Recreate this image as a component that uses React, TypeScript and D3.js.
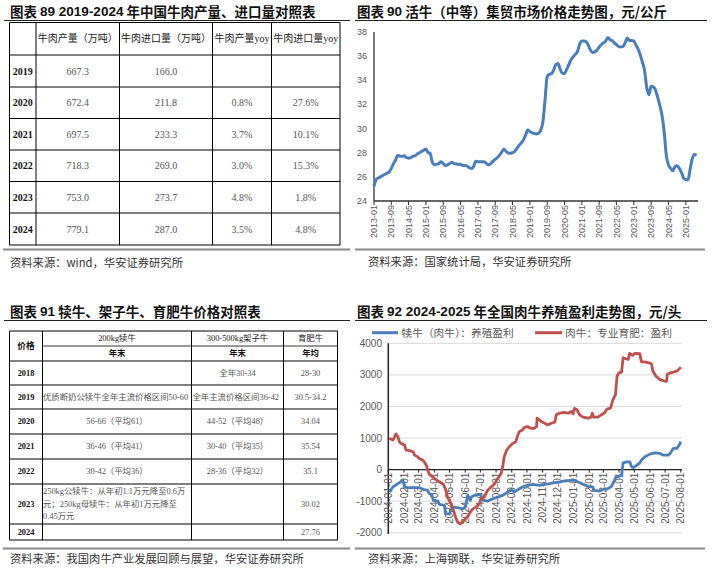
import React from 'react';
import * as d3 from 'd3';

// ---------- Table 89 ----------
const t89Header = ['', '牛肉产量（万吨）', '牛肉进口量（万吨）', '牛肉产量yoy', '牛肉进口量yoy'];
const t89Years = ['2019', '2020', '2021', '2022', '2023', '2024'];
const t89Output = ['667.3', '672.4', '697.5', '718.3', '753.0', '779.1'];
const t89Import = ['166.0', '211.8', '233.3', '269.0', '273.7', '287.0'];
const t89OutputYoy = ['', '0.8%', '3.7%', '3.0%', '4.8%', '3.5%'];
const t89ImportYoy = ['', '27.6%', '10.1%', '15.3%', '1.8%', '4.8%'];

// ---------- Table 91 ----------
const t91Head1 = ['价格', '200kg犊牛', '300-500kg架子牛', '育肥牛'];
const t91Head2 = ['年末', '年末', '年均'];
const t91Years = ['2018', '2019', '2020', '2021', '2022', '2023', '2024'];
const t91Calf = [
  [''],
  ['优质断奶公犊牛全年主流价格区间50-60'],
  ['56-66（平均61）'],
  ['36-46（平均41）'],
  ['30-42（平均36）'],
  ['250kg公犊牛：从年初1.1万元降至0.6万', '元；250kg母犊牛：从年初1万元降至', '0.45万元'],
  [''],
];
const t91Stocker = ['全年30-34', '全年主流价格区间36-42', '44-52（平均48）', '30-40（平均35）', '28-36（平均32）', '', ''];
const t91Fat = ['28-30', '30.5-34.2', '34.04', '35.54', '35.1', '30.02', '27.76'];

// ---------- Chart 90 (monthly, from 2013-01) ----------
const price90Start = '2013-01';
const price90 = [
  25.2, 25.8, 25.9, 26.0, 26.1, 26.2, 26.3, 26.4, 26.7, 27.1, 27.4, 27.8,
  27.7, 27.7, 27.75, 27.6, 27.55, 27.6, 27.7, 27.75, 27.9, 28.0, 28.1, 28.2,
  28.3, 28.0, 27.95, 27.2, 27.0, 27.05, 27.1, 27.25, 27.1, 26.95, 27.0, 27.1,
  27.2, 27.1, 27.07, 27.05, 27.05, 26.95, 26.95, 26.9, 26.75, 26.7, 26.85, 27.3,
  27.25, 27.25, 27.25, 27.25, 27.1, 26.98, 27.1, 27.3, 27.45, 27.6, 27.8, 28.05,
  28.3, 28.1, 27.98, 27.95, 28.0, 28.1, 28.35, 28.6, 28.8, 29.05, 29.45, 29.88,
  29.75, 29.65, 29.6, 29.55, 29.6, 29.85, 30.5, 32.3, 34.3, 34.5, 34.55, 34.85,
  35.3, 35.4, 34.9, 34.6, 34.56, 34.9, 35.3, 35.7, 35.95, 36.15, 36.4, 37.0,
  37.25, 37.25, 37.2, 36.9, 36.5, 36.3, 36.35, 36.5, 36.75, 36.95, 37.1, 37.25,
  37.55, 37.35, 37.3, 37.1, 36.95, 36.8, 36.75, 36.8, 37.1, 37.5, 37.3, 37.3,
  37.25, 36.9, 36.6, 36.1, 35.5, 34.8, 33.4, 32.8, 33.5, 33.45, 33.2, 32.6,
  31.9, 31.1, 29.8, 27.8, 27.0, 26.7, 26.5, 26.85, 26.93, 26.7, 26.35, 25.9,
  25.78, 25.75, 26.6, 27.5, 27.85, 27.8,
];
const x90Ticks = ['2013-01', '2013-09', '2014-05', '2015-01', '2015-09', '2016-05', '2017-01', '2017-09', '2018-05', '2019-01', '2019-09', '2020-05', '2021-01', '2021-09', '2022-05', '2023-01', '2023-09', '2024-05', '2025-01'];
const y90Ticks = [24, 26, 28, 30, 32, 34, 36, 38];

// ---------- Chart 92 ----------
const redDates = [
  '2024-01-03', '2024-01-10', '2024-01-13', '2024-01-16', '2024-01-20', '2024-01-23', '2024-01-26', '2024-02-02', '2024-02-05', '2024-02-12',
  '2024-02-19', '2024-02-22', '2024-02-28', '2024-03-02', '2024-03-09', '2024-03-12', '2024-03-16', '2024-03-19', '2024-03-22', '2024-03-29',
  '2024-04-04', '2024-04-11', '2024-04-18', '2024-04-21', '2024-04-24', '2024-04-27', '2024-05-04', '2024-05-09', '2024-05-13', '2024-05-17',
  '2024-05-22', '2024-05-27', '2024-06-01', '2024-06-06', '2024-06-11', '2024-06-16', '2024-06-22', '2024-06-29', '2024-07-02', '2024-07-09',
  '2024-07-15', '2024-07-22', '2024-07-29', '2024-08-04', '2024-08-11', '2024-08-14', '2024-08-17', '2024-08-22', '2024-08-27', '2024-09-03',
  '2024-09-09', '2024-09-13', '2024-09-16', '2024-09-22', '2024-09-26', '2024-10-02', '2024-10-09', '2024-10-15', '2024-10-20', '2024-10-21',
  '2024-10-23', '2024-10-26', '2024-10-29', '2024-11-05', '2024-11-11', '2024-11-18', '2024-11-25', '2024-11-28', '2024-12-04', '2024-12-14',
  '2024-12-21', '2024-12-28', '2024-12-31', '2025-01-03', '2025-01-08', '2025-01-13', '2025-01-20', '2025-01-30', '2025-02-05', '2025-02-07',
  '2025-02-10', '2025-02-18', '2025-02-25', '2025-03-04', '2025-03-08', '2025-03-15', '2025-03-20', '2025-03-25', '2025-03-28', '2025-04-01',
  '2025-04-06', '2025-04-09', '2025-04-14', '2025-04-19', '2025-04-22', '2025-04-28', '2025-05-02', '2025-05-12', '2025-05-15', '2025-05-25',
  '2025-06-04', '2025-06-07', '2025-06-13', '2025-06-21', '2025-07-01', '2025-07-04', '2025-07-05', '2025-07-11', '2025-07-17', '2025-07-24',
  '2025-07-29', '2025-08-01',
];
const redValues = [
  990, 936, 1020, 1130, 1040, 880, 830, 780, 617, 600,
  560, 457, 404, 350, 300, 245, 138, -20, -150, -234,
  -320, -394, -447, -553, -660, -870, -1085, -1300, -1510, -1670,
  -1723, -1670, -1564, -1490, -1350, -1245, -1190, -1085, -925, -870,
  -660, -553, -447, -287, -128, 85, 404, 617, 723, 830,
  883, 1096, 1202, 1255, 1340, 1362, 1308, 1308, 1362, 1628,
  1596, 1575, 1521, 1468, 1415, 1468, 1500, 1734, 1787, 1808,
  1787, 1840, 1766, 1936, 1894, 1734, 1660, 1628, 1660, 1787,
  1660, 1660, 1734, 1808, 1915, 1947, 2213, 2372, 2957, 3064,
  3085, 3543, 3511, 3490, 3681, 3617, 3681, 3670, 3415, 3404,
  3351, 3117, 2957, 2851, 2798, 2798, 3011, 3064, 3085, 3117,
  3191, 3245,
];
const blueDates = [
  '2024-01-03', '2024-01-10', '2024-01-20', '2024-01-30', '2024-02-02', '2024-02-09', '2024-02-19', '2024-03-03', '2024-03-12', '2024-03-19',
  '2024-03-22', '2024-03-27', '2024-03-30', '2024-04-08', '2024-04-11', '2024-04-21', '2024-04-23', '2024-05-01', '2024-05-04', '2024-05-11',
  '2024-05-19', '2024-05-27', '2024-06-01', '2024-06-06', '2024-06-11', '2024-06-13', '2024-06-19', '2024-06-26', '2024-07-02', '2024-07-07',
  '2024-07-15', '2024-07-25', '2024-08-04', '2024-08-14', '2024-08-24', '2024-08-31', '2024-09-06', '2024-09-13', '2024-09-22', '2024-10-02',
  '2024-10-12', '2024-10-26', '2024-11-05', '2024-11-14', '2024-11-25', '2024-12-04', '2024-12-14', '2024-12-24', '2025-01-03', '2025-01-10',
  '2025-01-20', '2025-01-30', '2025-02-08', '2025-02-11', '2025-02-21', '2025-02-28', '2025-03-10', '2025-03-17', '2025-03-23', '2025-03-26',
  '2025-04-01', '2025-04-06', '2025-04-09', '2025-04-16', '2025-04-22', '2025-04-26', '2025-04-29', '2025-05-06', '2025-05-12', '2025-05-15',
  '2025-05-22', '2025-06-01', '2025-06-11', '2025-06-21', '2025-06-27', '2025-07-07', '2025-07-11', '2025-07-17', '2025-07-24', '2025-07-29',
  '2025-08-01',
];
const blueValues = [
  -713, -553, -447, -340, -553, -574, -574, -574, -638, -660,
  -766, -787, -979, -1000, -1106, -1138, -1404, -1404, -1245, -1190,
  -1213, -1245, -1190, -820, -979, -872, -820, -787, -820, -979,
  -1000, -925, -872, -820, -713, -638, -713, -638, -553, -500,
  -468, -500, -468, -447, -415, -394, -362, -340, -340, -394,
  -468, -532, -553, -660, -681, -638, -606, -532, -340, -234,
  -213, -181, 213, 245, 245, 85, 64, 138, 213, 298,
  404, 489, 532, 510, 457, 457, 510, 670, 670, 777,
  883,
];
const x92Ticks = ['2024-01-01', '2024-02-01', '2024-03-01', '2024-04-01', '2024-05-01', '2024-06-01', '2024-07-01', '2024-08-01', '2024-09-01', '2024-10-01', '2024-11-01', '2024-12-01', '2025-01-01', '2025-02-01', '2025-03-01', '2025-04-01', '2025-05-01', '2025-06-01', '2025-07-01', '2025-08-01'];
const y92Ticks = [-2000, -1000, 0, 1000, 2000, 3000, 4000];
const legend92 = ['犊牛（肉牛）：养殖盈利', '肉牛：专业育肥：盈利'];

const CJK = "'Noto Sans CJK SC', sans-serif";
const TAB = "'Liberation Serif', 'Noto Sans CJK SC', serif";
const SANS = "'Liberation Sans', Arial, 'Noto Sans CJK SC', sans-serif";
const BLUE = '#4a7ebb';
const RED = '#c0504d';

function Table89() {
  const cols = [9.5, 36, 119.5, 212.5, 271.5, 340];
  const rows = [22.5, 55, 87, 118.5, 150, 181.5, 213, 245];
  const cx = (i: number) => (cols[i] + cols[i + 1]) / 2;
  const cy = (i: number) => (rows[i] + rows[i + 1]) / 2;
  const body = [t89Output, t89Import, t89OutputYoy, t89ImportYoy];
  return (
    <g>
      {rows.map((y, i) => (
        <line key={'h' + i} x1={cols[0]} x2={cols[5]} y1={y} y2={y} stroke="#000" strokeWidth={1} />
      ))}
      {cols.map((x, i) => (
        <line key={'v' + i} x1={x} x2={x} y1={rows[0]} y2={rows[rows.length - 1]} stroke="#000" strokeWidth={1} />
      ))}
      {t89Header.map((h, i) => (
        <text key={'th' + i} x={cx(i)} y={cy(0)} textAnchor="middle" dominantBaseline="central" fontSize={10} fontFamily={TAB} fill="#222">{h}</text>
      ))}
      {t89Years.map((yr, r) => (
        <g key={'r' + r}>
          <text x={cx(0)} y={cy(r + 1)} textAnchor="middle" dominantBaseline="central" fontSize={10} fontWeight="bold" fontFamily={TAB} fill="#111">{yr}</text>
          {body.map((col, c) => (
            <text key={c} x={cx(c + 1)} y={cy(r + 1)} textAnchor="middle" dominantBaseline="central" fontSize={10} fontFamily={TAB} fill="#555">{col[r]}</text>
          ))}
        </g>
      ))}
    </g>
  );
}

function Table91() {
  const cols = [9.5, 42.5, 191.5, 283.5, 337.5];
  const rows = [331, 346, 361, 385, 409, 434, 459, 484, 524, 540];
  const cx = (i: number) => (cols[i] + cols[i + 1]) / 2;
  const fs = 8.4;
  return (
    <g>
      <line x1={cols[0]} x2={cols[4]} y1={rows[0]} y2={rows[0]} stroke="#000" />
      <line x1={cols[1]} x2={cols[4]} y1={rows[1]} y2={rows[1]} stroke="#000" strokeWidth={0.8} />
      {rows.slice(2).map((y, i) => (
        <line key={'h' + i} x1={cols[0]} x2={cols[4]} y1={y} y2={y} stroke="#000" />
      ))}
      {cols.map((x, i) => (
        <line key={'v' + i} x1={x} x2={x} y1={rows[0]} y2={rows[rows.length - 1]} stroke="#000" />
      ))}
      <text x={cx(0)} y={(rows[0] + rows[2]) / 2} textAnchor="middle" dominantBaseline="central" fontSize={fs + 0.3} fontWeight="bold" fontFamily={TAB} fill="#111">{t91Head1[0]}</text>
      {t91Head1.slice(1).map((h, i) => (
        <text key={'a' + i} x={cx(i + 1)} y={(rows[0] + rows[1]) / 2} textAnchor="middle" dominantBaseline="central" fontSize={fs} fontFamily={TAB} fill="#222">{h}</text>
      ))}
      {t91Head2.map((h, i) => (
        <text key={'b' + i} x={cx(i + 1)} y={(rows[1] + rows[2]) / 2} textAnchor="middle" dominantBaseline="central" fontSize={fs} fontWeight="bold" fontFamily={TAB} fill="#111">{h}</text>
      ))}
      {t91Years.map((yr, r) => {
        const y0 = rows[r + 2];
        const y1 = rows[r + 3];
        const ym = (y0 + y1) / 2;
        const calf = t91Calf[r];
        const calfLeft = calf.length > 1 || calf[0].length > 14;
        const stock = t91Stocker[r];
        const stockLeft = stock.length > 12;
        return (
          <g key={'r' + r}>
            <text x={cx(0)} y={ym} textAnchor="middle" dominantBaseline="central" fontSize={fs} fontWeight="bold" fontFamily={TAB} fill="#111">{yr}</text>
            {calf.map((ln, k) => (
              <text key={k} x={calfLeft ? cols[1] + 0.5 : cx(1)} y={ym + (k - (calf.length - 1) / 2) * 12.8} textAnchor={calfLeft ? 'start' : 'middle'} dominantBaseline="central" fontSize={fs} fontFamily={TAB} fill="#555">{ln}</text>
            ))}
            <text x={stockLeft ? cols[2] + 1 : cx(2)} y={ym} textAnchor={stockLeft ? 'start' : 'middle'} dominantBaseline="central" fontSize={fs} fontFamily={TAB} fill="#555">{stock}</text>
            <text x={cx(3)} y={ym} textAnchor="middle" dominantBaseline="central" fontSize={fs} fontFamily={TAB} fill="#555">{t91Fat[r]}</text>
          </g>
        );
      })}
    </g>
  );
}

function Chart90() {
  const parseM = d3.timeParse('%Y-%m');
  const start = parseM(price90Start) as Date;
  const dates = price90.map((_, i) => d3.timeMonth.offset(start, i));
  const x = d3.scaleTime().domain([start, dates[dates.length - 1]]).range([374, 696.6]);
  const y = d3.scaleLinear().domain([24, 38]).range([201, 32]);
  const line = d3.line<number>().x((_, i) => x(dates[i])).y((d) => y(d)).curve(d3.curveMonotoneX);
  return (
    <g fontFamily={SANS}>
      {y90Ticks.map((t) => (
        <text key={t} x={367} y={y(t)} textAnchor="end" dominantBaseline="central" fontSize={9} fill="#595959">{t}</text>
      ))}
      <line x1={374} x2={374} y1={32} y2={201} stroke="#333" strokeWidth={1.3} />
      <line x1={374} x2={698} y1={201} y2={201} stroke="#333" strokeWidth={1.3} />
      {x90Ticks.map((t) => {
        const xx = x(parseM(t) as Date);
        return (
          <g key={t}>
            <line x1={xx} x2={xx} y1={201} y2={205} stroke="#333" strokeWidth={1} />
            <text transform={`translate(${xx},${205}) rotate(-90)`} textAnchor="end" dy="0.35em" fontSize={9} fill="#595959">{t}</text>
          </g>
        );
      })}
      <path d={line(price90) || ''} fill="none" stroke={BLUE} strokeWidth={3} strokeLinejoin="round" />
    </g>
  );
}

function Chart92() {
  const parseD = d3.timeParse('%Y-%m-%d');
  const x = d3.scaleTime().domain([parseD(x92Ticks[0]) as Date, parseD(x92Ticks[x92Ticks.length - 1]) as Date]).range([388.3, 680.8]);
  const y = d3.scaleLinear().domain([-2000, 4000]).range([532.7, 343.3]);
  const rd = redDates.map((d) => parseD(d) as Date);
  const bd = blueDates.map((d) => parseD(d) as Date);
  const redLine = d3.line<number>().x((_, i) => x(rd[i])).y((d) => y(d));
  const blueLine = d3.line<number>().x((_, i) => x(bd[i])).y((d) => y(d));
  return (
    <g fontFamily={SANS}>
      {y92Ticks.map((t) => (
        <g key={t}>
          {t !== 0 && <line x1={388.3} x2={682} y1={y(t)} y2={y(t)} stroke="#d9d9d9" strokeWidth={1} />}
          <text x={382} y={y(t)} textAnchor="end" dominantBaseline="central" fontSize={10} fill="#595959">{t}</text>
        </g>
      ))}
      <line x1={388.3} x2={388.3} y1={343.3} y2={534} stroke="#222" strokeWidth={1.5} />
      <line x1={388.3} x2={682} y1={y(0)} y2={y(0)} stroke="#222" strokeWidth={1.3} />
      {x92Ticks.map((t) => {
        const xx = x(parseD(t) as Date);
        return (
          <g key={t}>
            <line x1={xx} x2={xx} y1={y(0)} y2={y(0) + 3} stroke="#222" strokeWidth={1} />
            <text transform={`translate(${xx},${y(0) + 3}) rotate(-90)`} textAnchor="end" dy="0.36em" fontSize={10} fill="#595959">{t}</text>
          </g>
        );
      })}
      <path d={blueLine(blueValues) || ''} fill="none" stroke={BLUE} strokeWidth={2.8} strokeLinejoin="round" />
      <path d={redLine(redValues) || ''} fill="none" stroke={RED} strokeWidth={2.8} strokeLinejoin="round" />
      <line x1={372} x2={398} y1={332.7} y2={332.7} stroke={BLUE} strokeWidth={3} />
      <text x={401.5} y={332.7} dominantBaseline="central" fontSize={10.7} fontFamily={CJK} fill="#595959">{legend92[0]}</text>
      <line x1={535} x2={562} y1={332.7} y2={332.7} stroke={RED} strokeWidth={3} />
      <text x={565} y={332.7} dominantBaseline="central" fontSize={10.7} fontFamily={CJK} fill="#595959">{legend92[1]}</text>
    </g>
  );
}

function Title({ x, y, num, text }: { x: number; y: number; num: string; text: string }) {
  return (
    <text x={x} y={y} dominantBaseline="central" fontSize={13.5} fontWeight="bold" fontFamily={CJK} fill="#111">
      <tspan>图表 </tspan>
      <tspan fontFamily={SANS}>{num}</tspan>
      <tspan>{text}</tspan>
    </text>
  );
}

export default function App() {
  return (
    <svg width={713} height={569} viewBox="0 0 713 569" style={{ position: 'absolute', left: 0, top: 0, background: '#fff' }}>
      <rect x={0} y={0} width={713} height={569} fill="#fff" />
      <Title x={10} y={11} num="89 2019-2024" text=" 年中国牛肉产量、进口量对照表" />
      <Title x={357} y={11} num="90" text="  活牛（中等）集贸市场价格走势图，元/公斤" />
      <Title x={10} y={310.5} num="91" text="  犊牛、架子牛、育肥牛价格对照表" />
      <Title x={357} y={310.5} num="92 2024-2025" text=" 年全国肉牛养殖盈利走势图，元/头" />
      <line x1={4} x2={350} y1={20.5} y2={20.5} stroke="#222" strokeWidth={1} />
      <line x1={355} x2={707} y1={20.5} y2={20.5} stroke="#222" strokeWidth={1} />
      <line x1={4} x2={350} y1={320.5} y2={320.5} stroke="#222" strokeWidth={1} />
      <line x1={355} x2={707} y1={320.5} y2={320.5} stroke="#222" strokeWidth={1} />
      <line x1={3} x2={350} y1={249.5} y2={249.5} stroke="#888" strokeWidth={2} />
      <line x1={355} x2={705} y1={249.5} y2={249.5} stroke="#888" strokeWidth={2} />
      <line x1={3} x2={350} y1={548.5} y2={548.5} stroke="#888" strokeWidth={2} />
      <line x1={355} x2={705} y1={548.5} y2={548.5} stroke="#888" strokeWidth={2} />
      <Table89 />
      <Chart90 />
      <Table91 />
      <Chart92 />
      <text x={10} y={262} dominantBaseline="central" fontSize={11.3} fontFamily={CJK} fill="#333">资料来源：wind，华安证券研究所</text>
      <text x={368} y={261} dominantBaseline="central" fontSize={11.3} fontFamily={CJK} fill="#333">资料来源：国家统计局，华安证券研究所</text>
      <text x={10} y={558} dominantBaseline="central" fontSize={11.3} fontFamily={CJK} fill="#333">资料来源：我国肉牛产业发展回顾与展望，华安证券研究所</text>
      <text x={368} y={558} dominantBaseline="central" fontSize={11.3} fontFamily={CJK} fill="#333">资料来源：上海钢联，华安证券研究所</text>
    </svg>
  );
}
